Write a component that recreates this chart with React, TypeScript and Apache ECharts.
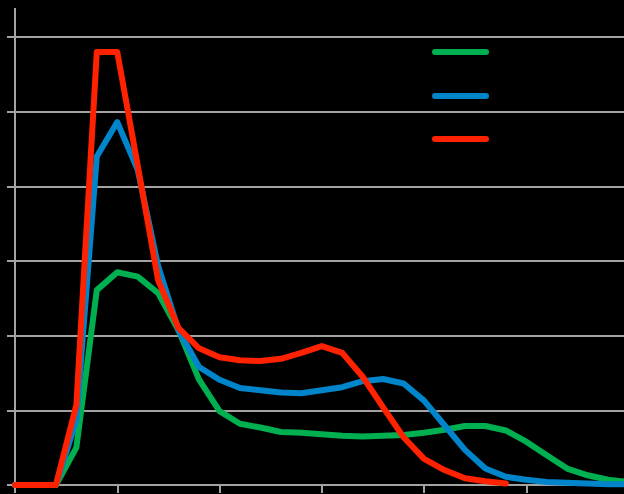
import React, { useEffect, useRef } from "react";
import * as echarts from "echarts";

const categories = [
  "0", "1", "2", "3", "4", "5", "6", "7", "8", "9", "10",
  "11", "12", "13", "14", "15", "16", "17", "18", "19", "20",
  "21", "22", "23", "24", "25", "26", "27", "28", "29", "30", "31",
];

const greenValues = [
  0, 0, 0, 0.5, 2.61, 2.85, 2.79, 2.57, 2.07, 1.41, 0.99,
  0.82, 0.77, 0.71, 0.7, 0.68, 0.66, 0.65, 0.66, 0.67, 0.7,
  0.74, 0.79, 0.79, 0.73, 0.58, 0.4, 0.22, 0.13, 0.07, 0.04,
];

const blueValues = [
  0, 0, 0, 0.87, 4.4, 4.86, 4.22, 2.93, 2.07, 1.58, 1.41,
  1.3, 1.27, 1.24, 1.23, 1.27, 1.31, 1.39, 1.42, 1.36, 1.13,
  0.8, 0.47, 0.22, 0.11, 0.07, 0.04, 0.03, 0.02, 0.01, 0.01,
];

const redValues = [
  0, 0, 0, 1.07, 5.8, 5.8, 4.28, 2.74, 2.1, 1.83, 1.71,
  1.67, 1.66, 1.69, 1.77, 1.86, 1.77, 1.45, 1.04, 0.64, 0.35,
  0.2, 0.09, 0.05, 0.02,
];

const seriesColors = ["#00B050", "#0084CA", "#FF2200"];
const gridColor = "#A3A3A3";

export default function App() {
  const ref = useRef<HTMLDivElement>(null);

  useEffect(() => {
    if (!ref.current) return;
    const chart = echarts.init(ref.current, undefined, { renderer: "svg" });
    const lineSeries = (data: number[], color: string) => ({
      type: "line",
      data,
      symbol: "none",
      smooth: false,
      lineStyle: { color, width: 6, cap: "round", join: "round" },
    });
    chart.setOption({
      animation: false,
      backgroundColor: "#000000",
      grid: {
        left: 15,
        top: 37,
        bottom: 9,
        width: 634,
        containLabel: false,
        outerBoundsMode: "none",
      },
      xAxis: {
        type: "category",
        data: categories,
        boundaryGap: false,
        axisLine: { show: true, lineStyle: { color: gridColor, width: 2 } },
        axisTick: { show: true, interval: 4, length: 8, lineStyle: { color: gridColor, width: 2 } },
        axisLabel: { show: false },
        splitLine: { show: false },
      },
      yAxis: {
        type: "value",
        min: 0,
        max: 6,
        interval: 1,
        axisLine: { show: true, lineStyle: { color: gridColor, width: 2 } },
        axisTick: { show: true, length: 8, lineStyle: { color: gridColor, width: 2 } },
        axisLabel: { show: false },
        splitLine: { show: true, lineStyle: { color: gridColor, width: 2 } },
      },
      graphic: [
        {
          type: "line",
          shape: { x1: 15, y1: 8, x2: 15, y2: 37 },
          style: { stroke: gridColor, lineWidth: 2 },
          z: 1,
        },
        {
          type: "line",
          shape: { x1: 435, y1: 52, x2: 486, y2: 52 },
          style: { stroke: seriesColors[0], lineWidth: 6, lineCap: "round" },
        },
        {
          type: "line",
          shape: { x1: 435, y1: 96, x2: 486, y2: 96 },
          style: { stroke: seriesColors[1], lineWidth: 6, lineCap: "round" },
        },
        {
          type: "line",
          shape: { x1: 435, y1: 139, x2: 486, y2: 139 },
          style: { stroke: seriesColors[2], lineWidth: 6, lineCap: "round" },
        },
      ],
      series: [
        lineSeries(greenValues, seriesColors[0]),
        lineSeries(blueValues, seriesColors[1]),
        lineSeries(redValues, seriesColors[2]),
      ],
    });
    return () => chart.dispose();
  }, []);

  return (
    <div
      ref={ref}
      style={{ position: "fixed", left: 0, top: 0, width: 624, height: 494, background: "#000" }}
    />
  );
}
